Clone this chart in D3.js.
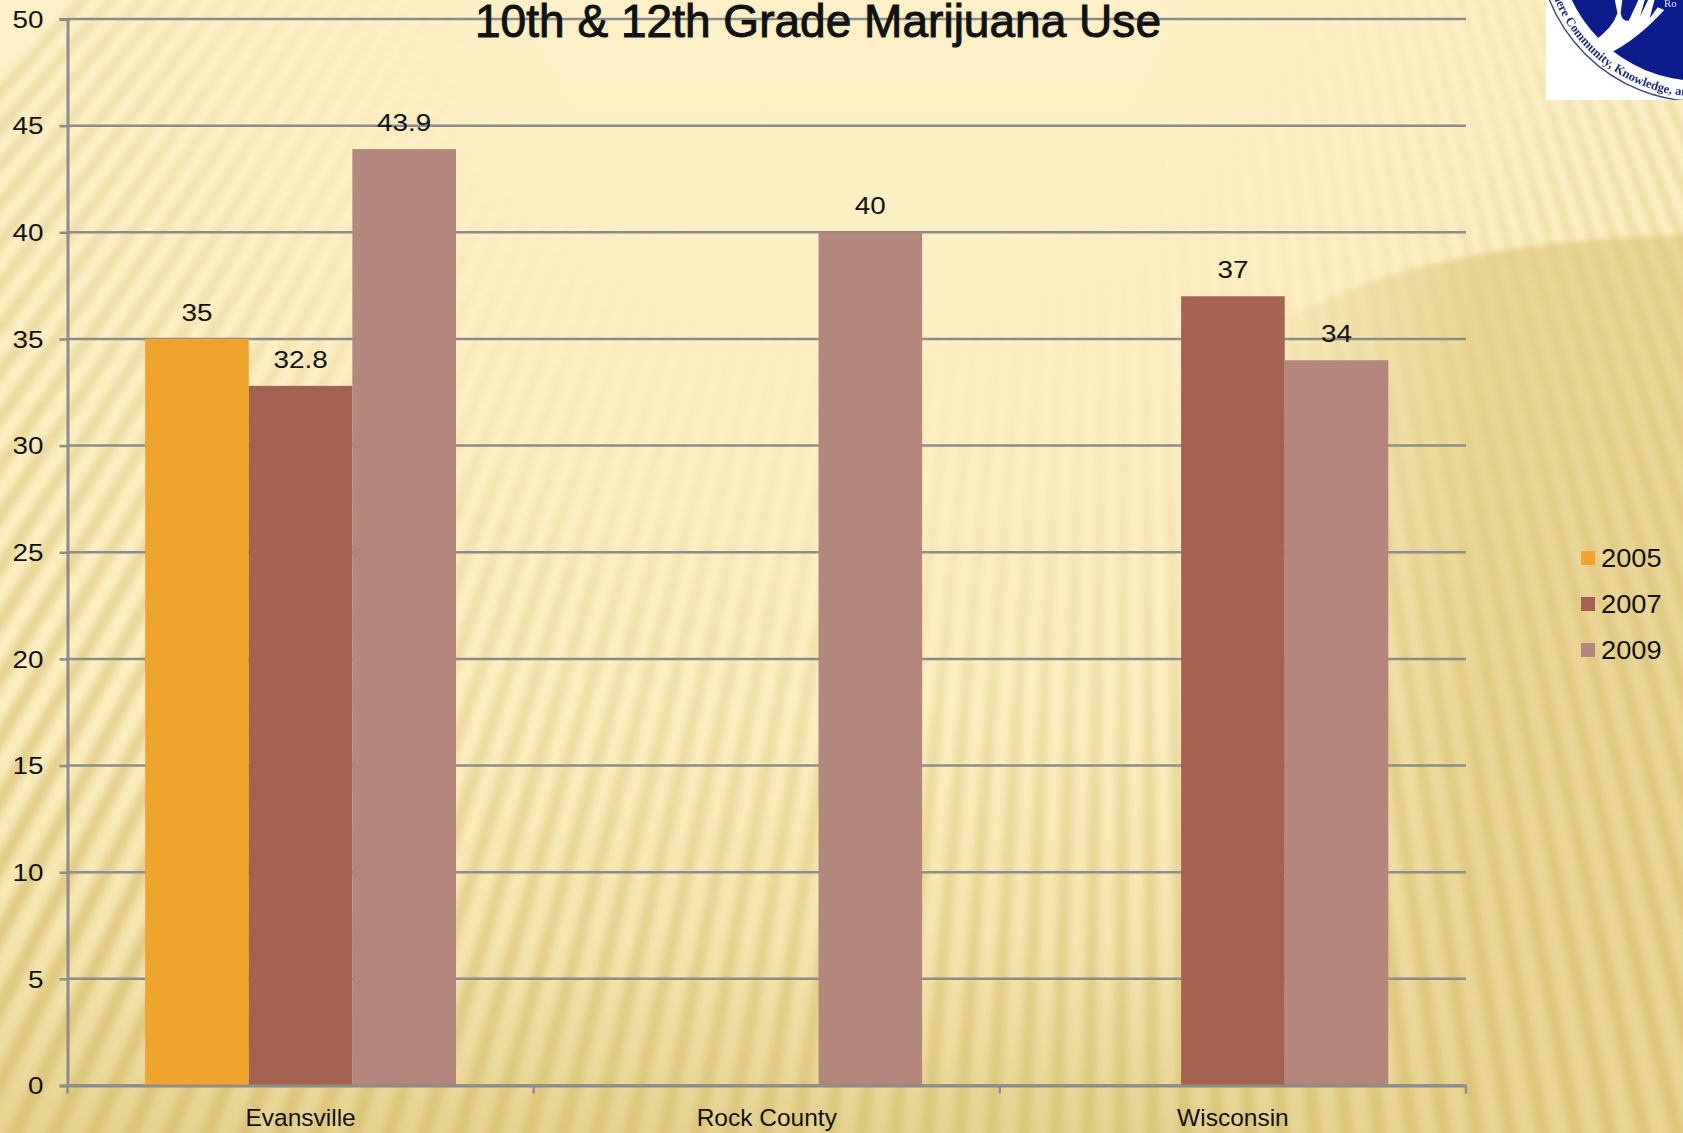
<!DOCTYPE html>
<html>
<head>
<meta charset="utf-8">
<title>10th &amp; 12th Grade Marijuana Use</title>
<script src="https://cdnjs.cloudflare.com/ajax/libs/d3/7.8.5/d3.min.js"></script>
<style>
html,body{margin:0;padding:0;overflow:hidden;background:#fdf0c6}
svg{display:block}
text{font-family:"Liberation Sans",Arial,sans-serif;fill:#111}
</style>
</head>
<body>
<div id="chart"></div>
<script>
// ---- data ----
const categories = ["Evansville", "Rock County", "Wisconsin"];
const years = ["2005", "2007", "2009"];
const values2005 = [35, null, null];
const values2007 = [32.8, null, 37];
const values2009 = [43.9, 40, 34];
const yTicks = [0, 5, 10, 15, 20, 25, 30, 35, 40, 45, 50];
const colors = ["#EFA42E", "#A46350", "#B3877B"];
const titleText = "10th & 12th Grade Marijuana Use";
const seriesValues = [values2005, values2007, values2009];

const W = 1683, H = 1133;
const plotLeft = 67.5, plotRight = 1466, plotTop = 19, plotBottom = 1085.5;

const svg = d3.select("#chart").append("svg").attr("width", W).attr("height", H).attr("viewBox", [0, 0, W, H]);
const defs = svg.append("defs");

// ---- background ----
const grad = (id, x1, y1, x2, y2, stops, radial) => {
  const g = defs.append(radial ? "radialGradient" : "linearGradient").attr("id", id).attr("gradientUnits", "userSpaceOnUse");
  if (radial) g.attr("cx", x1).attr("cy", y1).attr("r", x2);
  else g.attr("x1", x1).attr("y1", y1).attr("x2", x2).attr("y2", y2);
  stops.forEach(s => g.append("stop").attr("offset", s[0]).attr("stop-color", s[1]).attr("stop-opacity", s[2] === undefined ? 1 : s[2]));
};
grad("bgV", 0, 0, 0, H, [[0, "#FDF0C6"], [0.62, "#FCEEC0"], [0.82, "#F6E6B2"], [0.93, "#EDDBA0"], [1, "#E6D391"]]);
grad("stripeFade", 850, -50, 1250, 0, [[0.25, "#000"], [0.5, "#444"], [0.75, "#aaa"], [1, "#fff"]], true);
grad("arcFade", 1230, 0, 1480, 0, [[0, "#EAD596", 0], [0.6, "#EAD596", 0.55], [1, "#EAD596", 0.95]]);
defs.append("filter").attr("id", "soft").attr("x", "-5%").attr("y", "-5%").attr("width", "110%").attr("height", "110%")
  .append("feGaussianBlur").attr("stdDeviation", 3.6);
defs.append("filter").attr("id", "soft2").append("feGaussianBlur").attr("stdDeviation", 2.5);
defs.append("filter").attr("id", "logoBlur").append("feGaussianBlur").attr("stdDeviation", 0.45);
defs.append("mask").attr("id", "stripeMask").attr("maskUnits", "userSpaceOnUse")
  .attr("x", 0).attr("y", 0).attr("width", W).attr("height", H)
  .append("rect").attr("width", W).attr("height", H).attr("fill", "url(#stripeFade)");

const bg = svg.append("g");
bg.append("rect").attr("width", W).attr("height", H).attr("fill", "url(#bgV)");
bg.append("path").attr("filter", "url(#soft2)").attr("fill", "url(#arcFade)")
  .attr("d", "M1700,234C1560,238 1440,254 1350,290C1220,340 1100,430 900,640L900,1140L1700,1140Z");
const vx = 1130, vy = -1170, reach = 3600, step = 0.8, dark = 0.42;
const rays = d3.range(-42, 30, step);
bg.append("g").attr("mask", "url(#stripeMask)").append("g").attr("filter", "url(#soft)").attr("opacity", 0.66)
  .selectAll("path").data(rays).join("path")
  .attr("fill", "#D6BB6C")
  .attr("d", a => {
    const p = t => [vx + reach * Math.sin(t * Math.PI / 180), vy + reach * Math.cos(t * Math.PI / 180)];
    return "M" + [vx, vy] + "L" + p(a) + "L" + p(a + step * dark) + "Z";
  });

// ---- scales ----
const y = d3.scaleLinear().domain([0, 50]).range([plotBottom, plotTop]);
const x0 = d3.scaleBand().domain(categories).range([plotLeft, plotRight]);
const inset = x0.bandwidth() / 6;
const x1 = d3.scaleBand().domain(years).range([inset, x0.bandwidth() - inset]);

const AXIS = "#8C8C8C";
// gridlines
svg.append("g").selectAll("line").data(yTicks).join("line")
  .attr("x1", plotLeft).attr("x2", plotRight).attr("y1", d => y(d)).attr("y2", d => y(d))
  .attr("stroke", AXIS).attr("stroke-width", 2.5);

// bars
const rows = categories.flatMap((c, i) => years.map((yr, j) => ({ c, yr, j, v: seriesValues[j][i] }))).filter(d => d.v !== null);
svg.append("g").selectAll("rect").data(rows).join("rect")
  .attr("x", d => x0(d.c) + x1(d.yr)).attr("width", x1.bandwidth())
  .attr("y", d => y(d.v)).attr("height", d => y(0) - y(d.v))
  .attr("fill", d => colors[d.j]);

// axes
const stretch = 1.16;
const yAxis = svg.append("g").attr("transform", `translate(${plotLeft},0)`)
  .call(d3.axisLeft(y).tickValues(yTicks).tickSize(8).tickPadding(8));
yAxis.selectAll("path,line").attr("stroke", AXIS).attr("stroke-width", 2.5);
yAxis.select("path").attr("stroke-width", 3);
yAxis.selectAll("text").attr("font-size", 24).attr("fill", "#111").attr("font-family", "Liberation Sans")
  .attr("transform", `scale(${stretch},1)`).attr("x", -24 / stretch).attr("dy", "0.34em");

const xAxis = svg.append("g").attr("transform", `translate(0,${plotBottom})`)
  .call(d3.axisBottom(x0).tickSize(0).tickPadding(0));
xAxis.select("path").attr("stroke", AXIS).attr("stroke-width", 2.8);
xAxis.selectAll("text").attr("font-size", 24.5).attr("fill", "#111").attr("font-family", "Liberation Sans")
  .attr("y", 40.5).attr("dy", 0);
svg.append("g").selectAll("line").data(categories.concat(["end"])).join("line")
  .attr("x1", (d, i) => plotLeft + i * x0.step()).attr("x2", (d, i) => plotLeft + i * x0.step())
  .attr("y1", plotBottom).attr("y2", plotBottom + 8).attr("stroke", AXIS).attr("stroke-width", 2.4);

// data labels
svg.append("g").selectAll("text").data(rows).join("text")
  .attr("transform", d => `translate(${x0(d.c) + x1(d.yr) + x1.bandwidth() / 2},${y(d.v) - 18}) scale(${stretch},1)`)
  .attr("text-anchor", "middle").attr("font-size", 24).text(d => d.v);

// title
svg.append("text").attr("x", 818).attr("y", 36.5).attr("text-anchor", "middle")
  .attr("font-size", 47).attr("stroke", "#111").attr("stroke-width", 1)
  .attr("textLength", 686).attr("lengthAdjust", "spacingAndGlyphs").text(titleText);

// legend
const legend = svg.append("g").selectAll("g").data(years).join("g")
  .attr("transform", (d, i) => `translate(1581,${551 + i * 46})`);
legend.append("rect").attr("width", 14).attr("height", 14).attr("fill", (d, i) => colors[i]);
legend.append("text").attr("transform", `translate(20,16) scale(1.07,1)`).attr("font-size", 25.5).text(d => d);

// logo
const cx = 1700, cy = -61;
defs.append("clipPath").attr("id", "logoClip").append("rect").attr("x", 1546).attr("y", 0).attr("width", 137).attr("height", 100);
const logo = svg.append("g").attr("clip-path", "url(#logoClip)");
const logoInner = logo.append("g").attr("filter", "url(#logoBlur)");
logo.insert("rect", ":first-child").attr("x", 1546).attr("y", 0).attr("width", 137).attr("height", 100).attr("fill", "#fff");
logoInner.append("circle").attr("cx", cx).attr("cy", cy).attr("r", 162.5).attr("fill", "none").attr("stroke", "#3b3f86").attr("stroke-width", 1.4);
logoInner.append("circle").attr("cx", cx).attr("cy", cy).attr("r", 142).attr("fill", "#0B1A8C");
logoInner.append("path").attr("fill", "#fff").attr("transform", "translate(1540,0) scale(0.3226,0.3333)")
  .attr("d", "M232,0L240,40Q225,85 165,125Q195,135 215,160Q300,120 385,30L365,22L340,55L355,0L335,0L310,50L325,0L305,0L275,62Q255,65 250,40L255,0Z");
defs.append("path").attr("id", "logoArc").attr("d", `M${cx - 157.5},${cy}A157.5,157.5 0 0 0 ${cx + 157.5},${cy}`);
logoInner.append("text").attr("font-size", 12.6).attr("font-weight", "bold").style("font-family", "Liberation Serif").style("fill", "#1B2A86")
  .append("textPath").attr("href", "#logoArc").attr("startOffset", 46).text("Where Community, Knowledge, and");
logoInner.append("text").attr("x", 1664).attr("y", 7).attr("font-size", 11).style("font-family", "Liberation Serif").style("fill", "#dfe3f5").text("Ro");
</script>
</body>
</html>
